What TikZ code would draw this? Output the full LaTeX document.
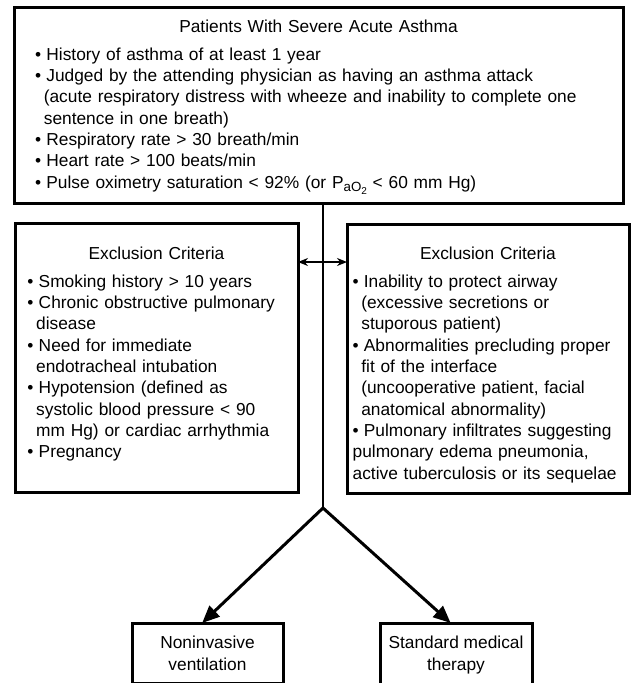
\documentclass[tikz,border=0pt]{standalone}
\usepackage{fontspec}
\setmainfont{Liberation Sans}
\usetikzlibrary{arrows.meta,positioning}

% bullet line with hanging indent, and a centred box heading
\newcommand{\critem}[1]{\par\hangindent=0.5em\hangafter=1\noindent\makebox[0.65em][l]{\textbullet}#1}
\newcommand{\crhead}[1]{{\centering #1\par}\vspace{5pt}}
\newcommand{\paotwo}{P\raisebox{-0.4ex}{\fontsize{10}{10}\selectfont aO\raisebox{-0.45ex}{\fontsize{7.5}{7.5}\selectfont 2}}}

\begin{document}
\begin{tikzpicture}[
    x=0.75pt, y=-0.75pt,
    box/.style={
        draw,
        line width=2.25pt,
        align=left,
        inner sep=3pt,
        outer sep=0pt,
        anchor=north,
        font=\fontsize{13}{16}\selectfont
    },
    endbox/.style={
        draw,
        line width=2.25pt,
        align=center,
        inner ysep=10pt,
        outer sep=0pt,
        anchor=north,
        font=\fontsize{13}{16}\selectfont
    },
    flow/.style={line width=2.25pt, -{Triangle[length=13pt,width=11pt]}},
    link/.style={line width=1.5pt, {Stealth[length=7.5pt,width=6pt]}-{Stealth[length=7.5pt,width=6pt]}}
]
\path[use as bounding box, clip] (0,0) rectangle (634,683);
\fill[white] (0,0) rectangle (634,683);

\node[box, minimum width=456.75pt, text width=425pt, text height=15.75pt, text depth=125.25pt] (patients) at (318.5,7) {%
\crhead{Patients With Severe Acute Asthma}%
\critem{History of asthma of at least 1 year}%
\critem{Judged by the attending physician as having an asthma attack\newline (acute respiratory distress with wheeze and inability to complete one\newline sentence in one breath)}%
\critem{Respiratory rate > 30 breath/min}%
\critem{Heart rate > 100 beats/min}%
\critem{Pulse oximetry saturation < 92\% (or \paotwo{} < 60 mm Hg)}};

\node[box, minimum width=212.25pt, text width=193.5pt, text height=24pt, text depth=171.75pt] (exclpatient) at (156.5,223) {%
\crhead{Exclusion Criteria}%
\critem{Smoking history > 10 years}%
\critem{Chronic obstructive pulmonary\newline disease}%
\critem{Need for immediate\newline endotracheal intubation}%
\critem{Hypotension (defined as\newline systolic blood pressure < 90\newline mm Hg) or cardiac arrhythmia}%
\critem{Pregnancy}};

\node[box, minimum width=211.5pt, text width=203pt, text height=23.25pt, text depth=172.5pt] (exclairway) at (488,224) {%
\crhead{Exclusion Criteria}%
\critem{Inability to protect airway\newline (excessive secretions or\newline stuporous patient)}%
\critem{Abnormalities precluding proper\newline fit of the interface\newline (uncooperative patient, facial\newline anatomical abnormality)}%
\critem{Pulmonary infiltrates suggesting\newline pulmonary edema pneumonia,\newline active tuberculosis or its sequelae}};

\node[endbox, minimum width=113.25pt] (niv) at (207.5,623) {Noninvasive\\ventilation};
\node[endbox, minimum width=114pt] (smt) at (456,623) {Standard medical\\therapy};

\coordinate (split) at (323,508);
\coordinate (cross) at (323,262);

\draw[line width=1.9pt] (patients.south -| split) -- (split);
\draw[link] (cross -| exclpatient.east) -- (cross -| exclairway.west);
\draw[flow] (split) -- ([xshift=-4pt]niv.north);
\draw[flow] (split) -- ([xshift=-4pt]smt.north);

\end{tikzpicture}
\end{document}
